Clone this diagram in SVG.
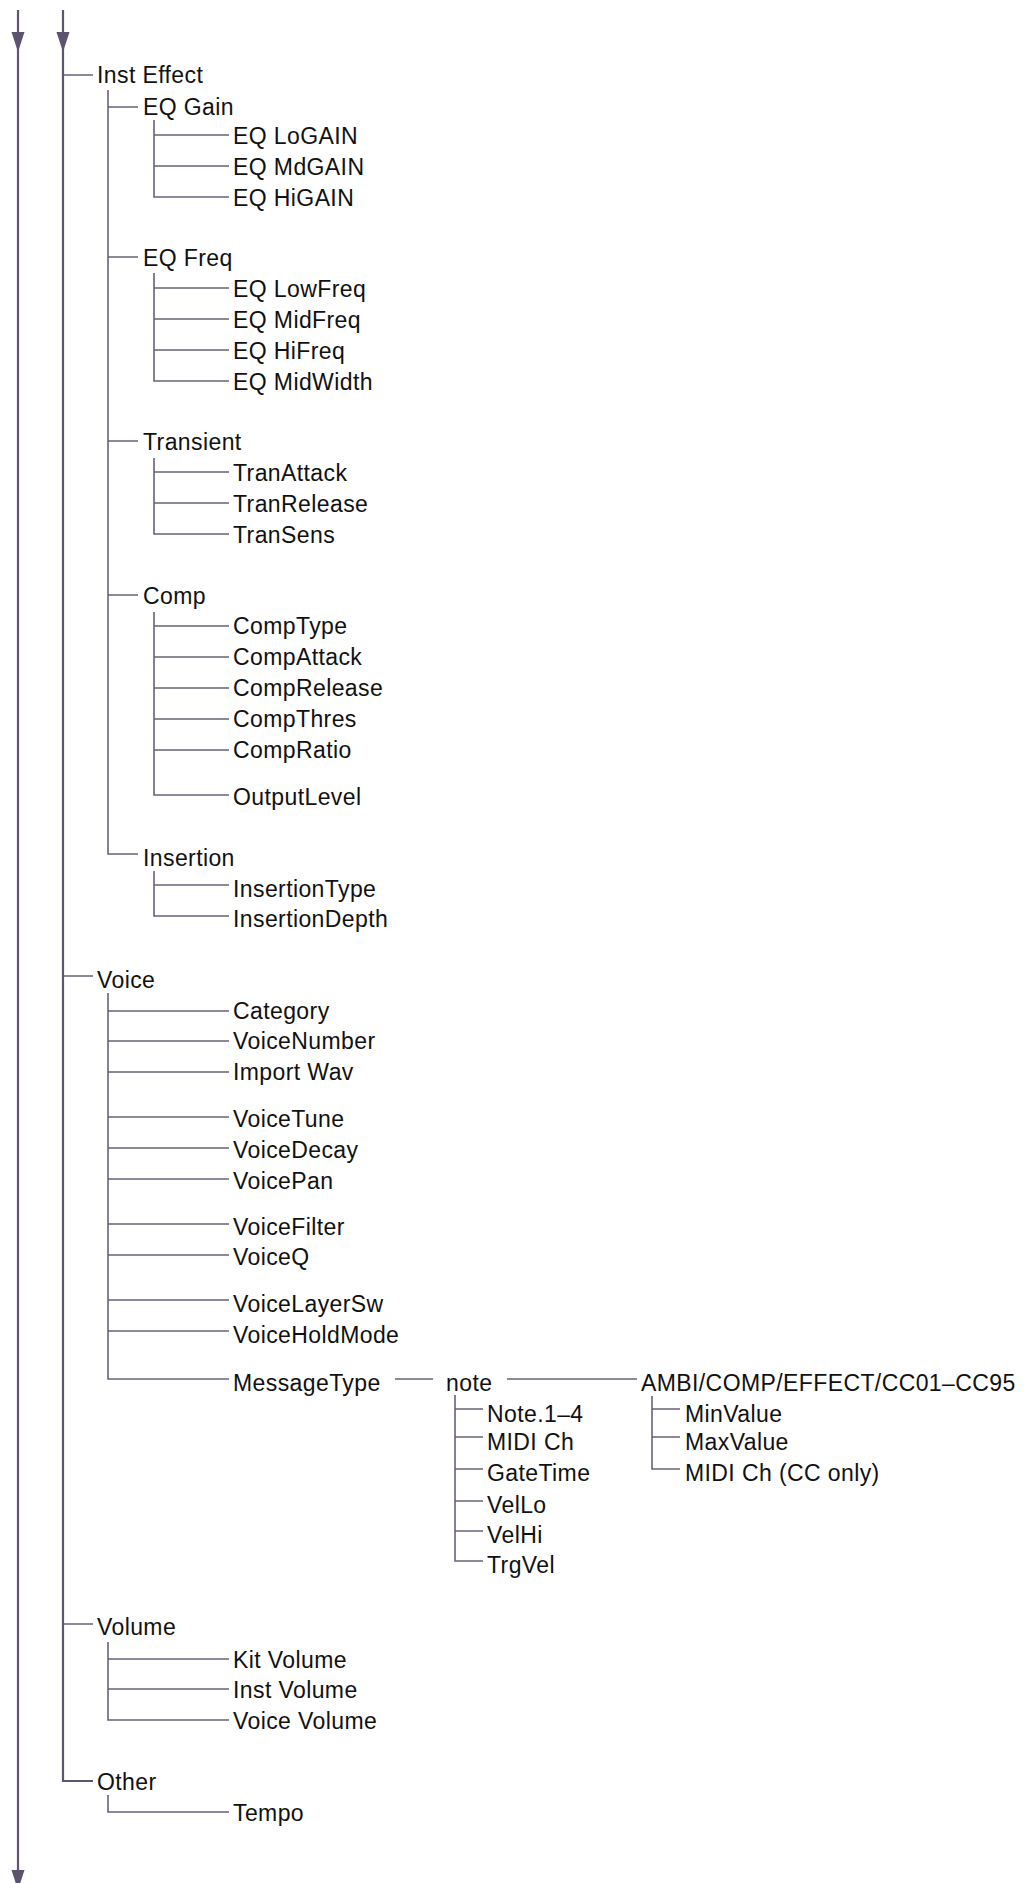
<svg xmlns="http://www.w3.org/2000/svg" width="1025" height="1883" viewBox="0 0 1025 1883">
<style>
text{font-family:"Liberation Sans",Arial,Helvetica,sans-serif;font-size:23px;fill:#111;letter-spacing:0.4px}
.c path{fill:none;stroke:#6b6079;stroke-width:1.6}
.c .trunk{stroke:#605570;stroke-width:2.2}
.ah{fill:#5e536e}
</style>
<rect width="1025" height="1883" fill="#fff"/>
<g id="connectors" class="c">
<path class="trunk" d="M18 10V1883M63 10V1781H93"/>
<polygon class="ah" points="11.5,32 24.5,32 18,52"/>
<polygon class="ah" points="56.5,32 69.5,32 63,52"/>
<polygon class="ah" points="11.5,1870 24.5,1870 18,1890"/>
<path d="M63 75H93M63 976H93M63 1624H93"/>
<path d="M108 90V854H138M108 107H138M108 257H138M108 441H138M108 595H138"/>
<path d="M154 120V197H229M154 135H229M154 166H229"/>
<path d="M154 273V381H229M154 288H229M154 319H229M154 350H229"/>
<path d="M154 458V534H229M154 472H229M154 503H229"/>
<path d="M154 612V795H229M154 626H229M154 657H229M154 688H229M154 719H229M154 750H229"/>
<path d="M154 871V916H229M154 885H229"/>
<path d="M108 993V1379H229M108 1011H229M108 1041H229M108 1072H229M108 1117H229M108 1148H229M108 1179H229M108 1224H229M108 1255H229M108 1300H229M108 1331H229"/>
<path d="M395 1379H433M507 1379H637"/>
<path d="M455 1395V1561H483M455 1409H483M455 1437H483M455 1469H483M455 1501H483M455 1531H483"/>
<path d="M652 1396V1469H680M652 1409H680M652 1437H680"/>
<path d="M108 1642V1720H229M108 1659H229M108 1689H229"/>
<path d="M108 1795V1812H229"/>
</g>
<g id="n-inst-effect"><text x="97" y="83">Inst Effect</text></g>
<g id="n-eq-gain"><text x="143" y="115">EQ Gain</text></g>
<g id="n-eq-logain"><text x="233" y="143.5">EQ LoGAIN</text></g>
<g id="n-eq-mdgain"><text x="233" y="174.5">EQ MdGAIN</text></g>
<g id="n-eq-higain"><text x="233" y="205.5">EQ HiGAIN</text></g>
<g id="n-eq-freq"><text x="143" y="265.5">EQ Freq</text></g>
<g id="n-eq-lowfreq"><text x="233" y="296.5">EQ LowFreq</text></g>
<g id="n-eq-midfreq"><text x="233" y="327.5">EQ MidFreq</text></g>
<g id="n-eq-hifreq"><text x="233" y="358.5">EQ HiFreq</text></g>
<g id="n-eq-midwidth"><text x="233" y="389.5">EQ MidWidth</text></g>
<g id="n-transient"><text x="143" y="449.5">Transient</text></g>
<g id="n-tranattack"><text x="233" y="480.5">TranAttack</text></g>
<g id="n-tranrelease"><text x="233" y="511.5">TranRelease</text></g>
<g id="n-transens"><text x="233" y="542.5">TranSens</text></g>
<g id="n-comp"><text x="143" y="603.5">Comp</text></g>
<g id="n-comptype"><text x="233" y="634">CompType</text></g>
<g id="n-compattack"><text x="233" y="665">CompAttack</text></g>
<g id="n-comprelease"><text x="233" y="696">CompRelease</text></g>
<g id="n-compthres"><text x="233" y="727">CompThres</text></g>
<g id="n-compratio"><text x="233" y="758">CompRatio</text></g>
<g id="n-outputlevel"><text x="233" y="804.5">OutputLevel</text></g>
<g id="n-insertion"><text x="143" y="866">Insertion</text></g>
<g id="n-insertiontype"><text x="233" y="896.5">InsertionType</text></g>
<g id="n-insertiondepth"><text x="233" y="927">InsertionDepth</text></g>
<g id="n-voice"><text x="97" y="988">Voice</text></g>
<g id="n-category"><text x="233" y="1019">Category</text></g>
<g id="n-voicenumber"><text x="233" y="1049">VoiceNumber</text></g>
<g id="n-importwav"><text x="233" y="1080">Import Wav</text></g>
<g id="n-voicetune"><text x="233" y="1127">VoiceTune</text></g>
<g id="n-voicedecay"><text x="233" y="1157.5">VoiceDecay</text></g>
<g id="n-voicepan"><text x="233" y="1189">VoicePan</text></g>
<g id="n-voicefilter"><text x="233" y="1234.5">VoiceFilter</text></g>
<g id="n-voiceq"><text x="233" y="1265">VoiceQ</text></g>
<g id="n-voicelayersw"><text x="233" y="1312">VoiceLayerSw</text></g>
<g id="n-voiceholdmode"><text x="233" y="1343">VoiceHoldMode</text></g>
<g id="n-messagetype"><text x="233" y="1391">MessageType</text></g>
<g id="n-note"><text x="446" y="1391">note</text></g>
<g id="n-ambi"><text x="641" y="1391">AMBI/COMP/EFFECT/CC01–CC95</text></g>
<g id="n-note14"><text x="487" y="1421.5">Note.1–4</text></g>
<g id="n-midich"><text x="487" y="1449.5">MIDI Ch</text></g>
<g id="n-gatetime"><text x="487" y="1481">GateTime</text></g>
<g id="n-vello"><text x="487" y="1512.5">VelLo</text></g>
<g id="n-velhi"><text x="487" y="1543">VelHi</text></g>
<g id="n-trgvel"><text x="487" y="1572.5">TrgVel</text></g>
<g id="n-minvalue"><text x="685" y="1421.5">MinValue</text></g>
<g id="n-maxvalue"><text x="685" y="1449.5">MaxValue</text></g>
<g id="n-midich-cc"><text x="685" y="1481">MIDI Ch (CC only)</text></g>
<g id="n-volume"><text x="97" y="1635">Volume</text></g>
<g id="n-kitvolume"><text x="233" y="1667.5">Kit Volume</text></g>
<g id="n-instvolume"><text x="233" y="1697.5">Inst Volume</text></g>
<g id="n-voicevolume"><text x="233" y="1728.5">Voice Volume</text></g>
<g id="n-other"><text x="97" y="1790">Other</text></g>
<g id="n-tempo"><text x="233" y="1820.5">Tempo</text></g>
</svg>
